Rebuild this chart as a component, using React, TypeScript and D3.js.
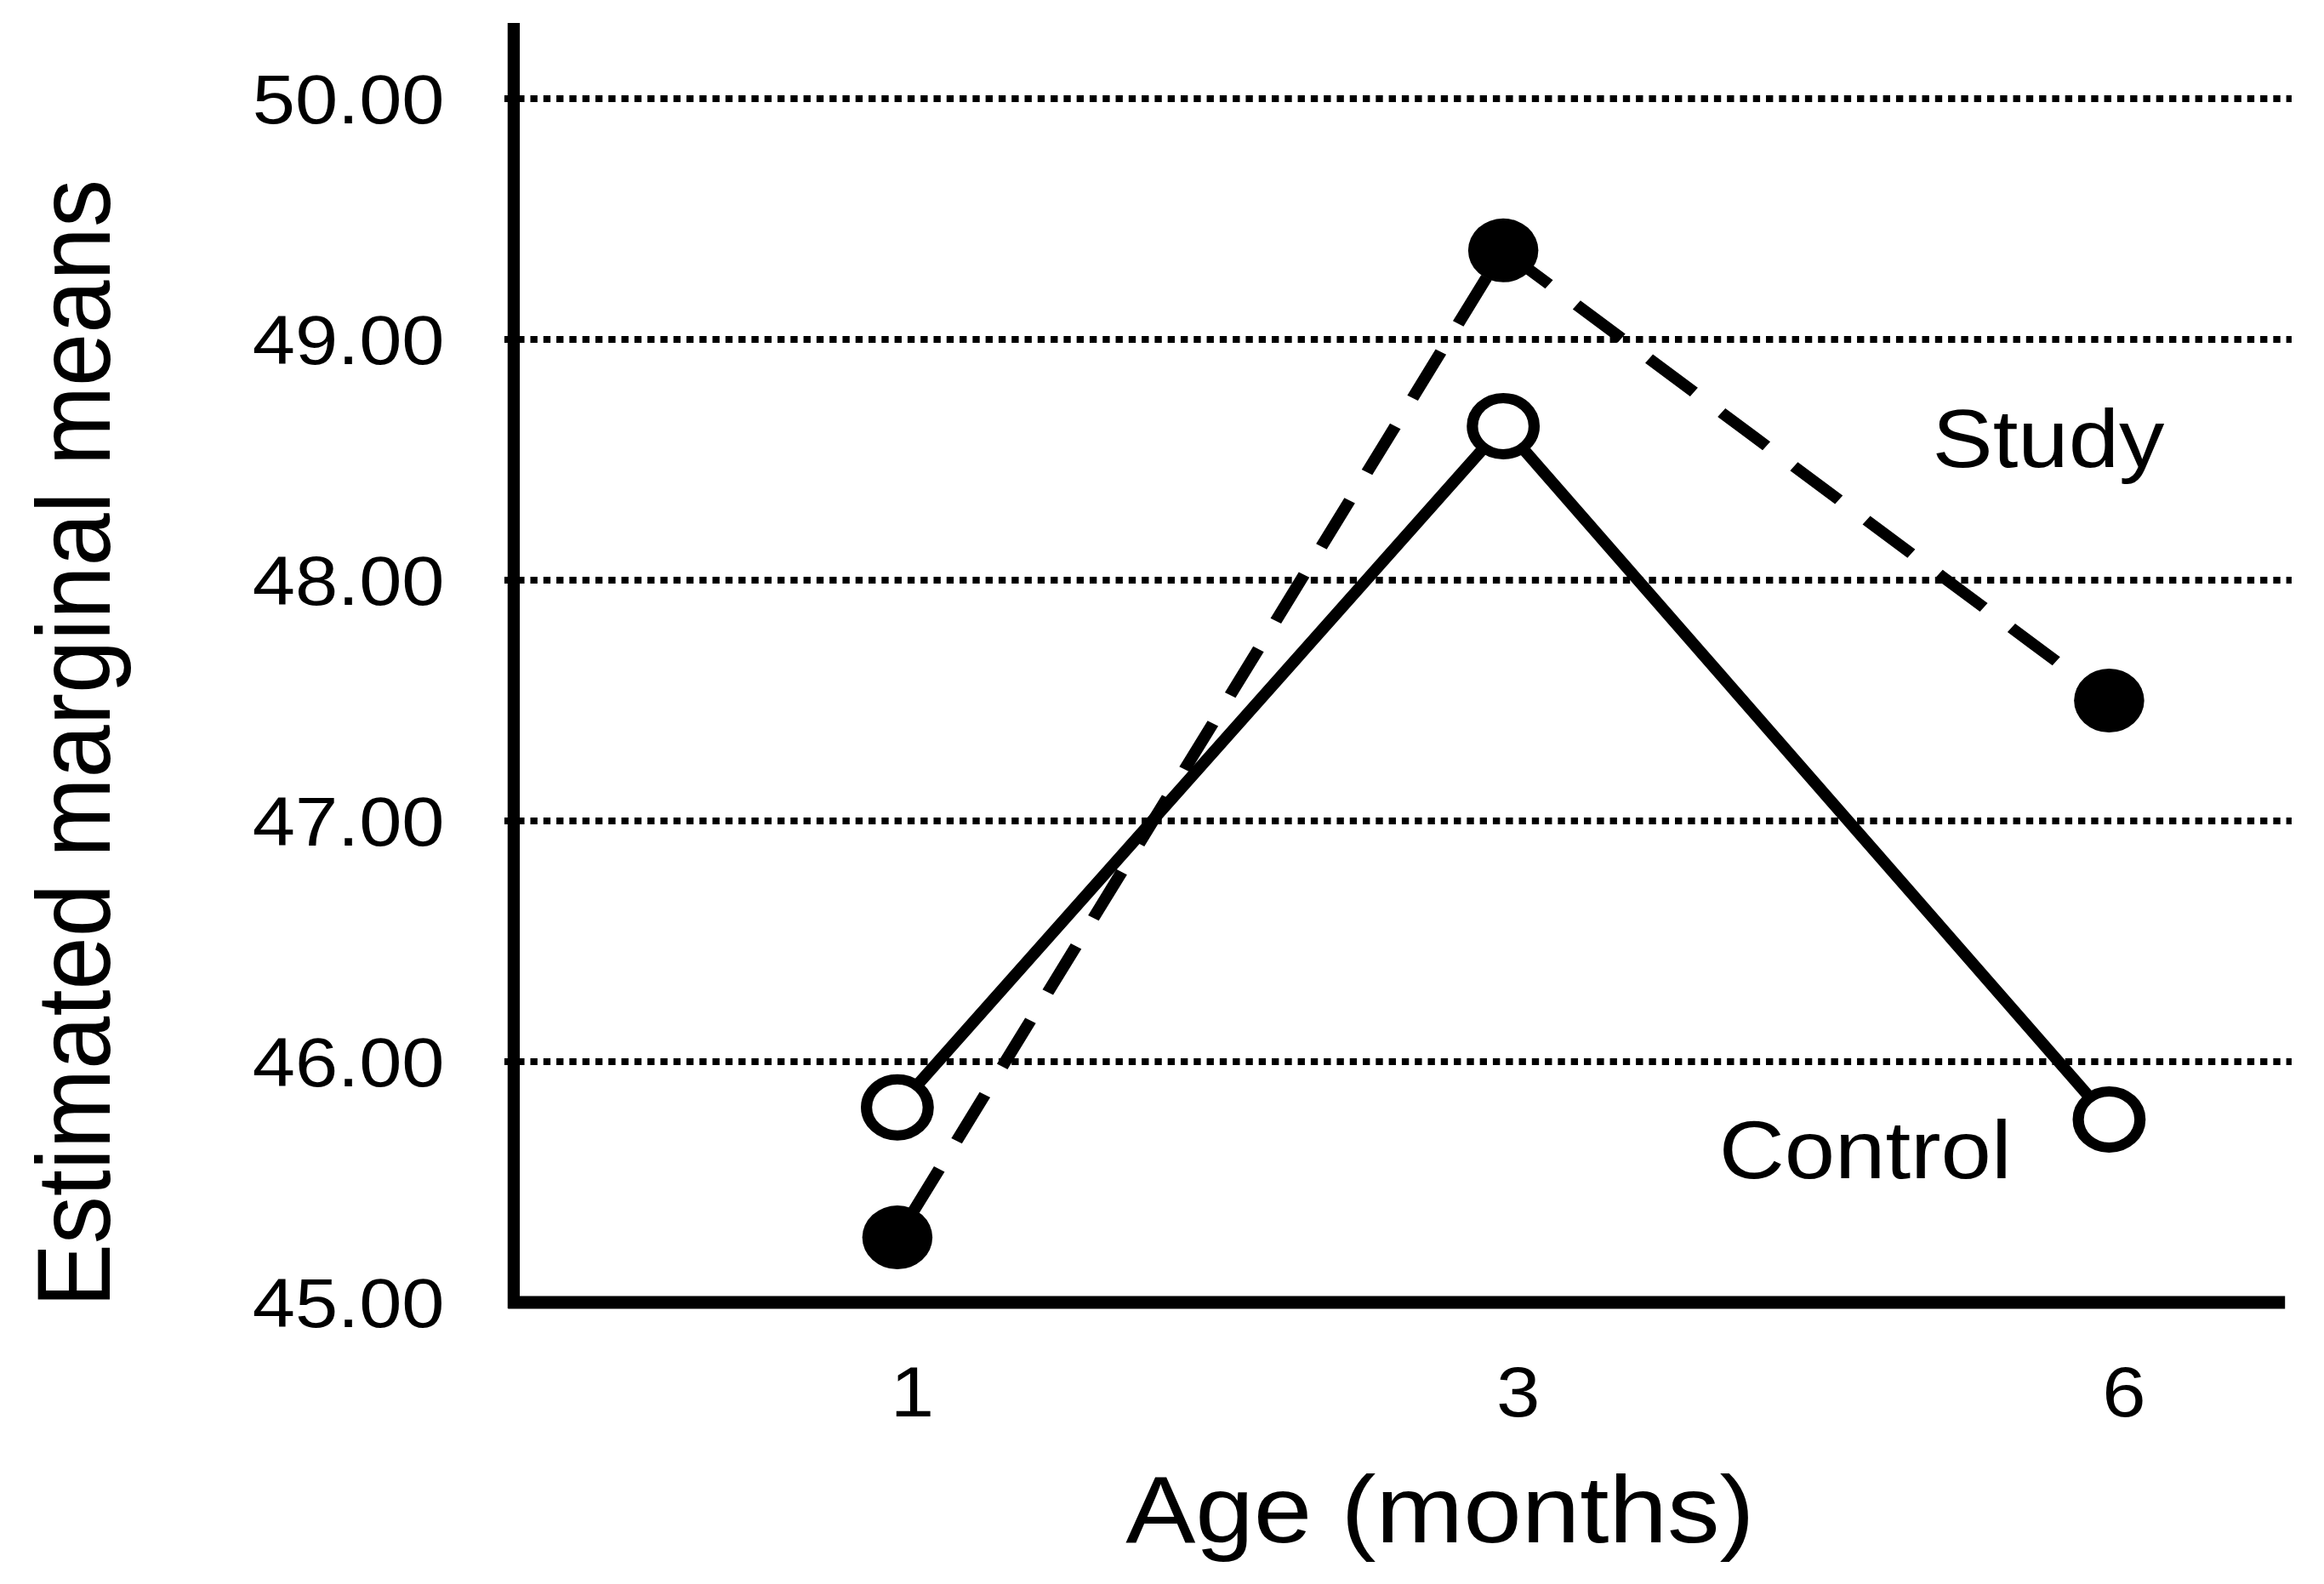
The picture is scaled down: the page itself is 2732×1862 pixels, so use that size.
import React from "react";
import * as d3 from "d3";

const ages = ["1", "3", "6"];
const studyValues = [45.27, 49.37, 47.5];
const controlValues = [45.81, 48.64, 45.76];
const yTicks = [45, 46, 47, 48, 49, 50];

const W = 2732;
const H = 1862;
const SX = 1.1;
const FONT = "'Liberation Sans', Arial, Helvetica, sans-serif";

export default function App() {
  const axisX = 549;
  const axisY = 1531;
  const axisTop = 27;
  const axisRight = 2442;

  const y = d3.scaleLinear().domain([45, 50]).range([1531, 116]);
  const x = d3.scalePoint<string>().domain(ages).range([959, 2254]);

  const line = d3
    .line<number>()
    .x((_, i) => x(ages[i]) as number)
    .y((d) => y(d));

  return (
    <svg
      width={W}
      height={H}
      style={{ position: "absolute", left: 0, top: 0, background: "#fff" }}
    >
      <rect x={0} y={0} width={W} height={H} fill="#fff" />
      <g transform={`scale(${SX},1)`} fontFamily={FONT} fill="#000">
        {/* gridlines */}
        {yTicks
          .filter((t) => t > 45)
          .map((t) => (
            <line
              key={"g" + t}
              x1={axisX - 10}
              x2={2449}
              y1={y(t)}
              y2={y(t)}
              stroke="#000"
              strokeWidth={8}
              strokeDasharray="7.6 6.3"
            />
          ))}
        {/* y tick labels */}
        {yTicks.map((t) => (
          <text
            key={"yt" + t}
            x={475}
            y={y(t)}
            dy="0.35em"
            textAnchor="end"
            fontSize={82}
          >
            {t.toFixed(2)}
          </text>
        ))}
        {/* axes */}
        <line x1={axisX} x2={axisX} y1={axisTop} y2={axisY + 7} stroke="#000" strokeWidth={13} />
        <line x1={axisX - 6} x2={axisRight} y1={axisY} y2={axisY} stroke="#000" strokeWidth={15} />
        {/* x tick labels */}
        {ages.map((a) => (
          <text
            key={"xt" + a}
            x={(x(a) as number) + 16}
            y={1665}
            textAnchor="middle"
            fontSize={84}
          >
            {a}
          </text>
        ))}
        {/* series lines */}
        <path
          d={line(studyValues) || ""}
          fill="none"
          stroke="#000"
          strokeWidth={13}
          strokeDasharray="62 38"
          strokeDashoffset={-30}
        />
        <path d={line(controlValues) || ""} fill="none" stroke="#000" strokeWidth={13} />
        {/* markers */}
        {studyValues.map((v, i) => (
          <circle key={"s" + i} cx={x(ages[i]) as number} cy={y(v)} r={37.5} fill="#000" />
        ))}
        {controlValues.map((v, i) => (
          <circle
            key={"c" + i}
            cx={x(ages[i]) as number}
            cy={y(v)}
            r={33}
            fill="#fff"
            stroke="#000"
            strokeWidth={12}
          />
        ))}
        {/* series labels */}
        <text x={2065} y={549} fontSize={97}>
          Study
        </text>
        <text x={1837} y={1385} fontSize={97}>
          Control
        </text>
        {/* axis titles */}
        <text x={1539} y={1813} textAnchor="middle" fontSize={112}>
          Age (months)
        </text>
        <text
          transform={`translate(117,874) rotate(-90)`}
          textAnchor="middle"
          fontSize={112}
        >
          Estimated marginal means
        </text>
      </g>
    </svg>
  );
}
